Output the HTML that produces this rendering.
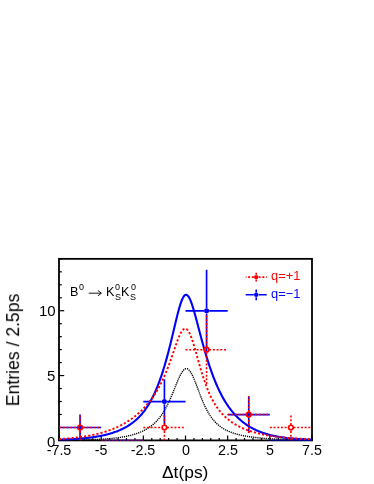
<!DOCTYPE html>
<html><head><meta charset="utf-8"><style>
html,body{margin:0;padding:0;background:#fff;}
body{width:374px;height:484px;position:relative;overflow:hidden;font-family:"Liberation Sans",sans-serif;color:#000;}
.t{position:absolute;white-space:nowrap;line-height:1;will-change:transform;}
.xl{font-size:14.3px;top:442.8px;transform:translateX(-50%);}
.yl{font-size:15px;text-align:right;right:318.6px;}
</style></head><body>
<svg width="374" height="484" viewBox="0 0 374 484" style="position:absolute;left:0;top:0">
<defs><clipPath id="c"><rect x="59.0" y="258.85" width="253.0" height="181.54999999999995"/></clipPath></defs>
<line x1="59.00" x2="59.00" y1="440.4" y2="435.59999999999997" stroke="#000" stroke-width="1.2"/>
<line x1="67.43" x2="67.43" y1="440.4" y2="438.0" stroke="#000" stroke-width="1.2"/>
<line x1="75.87" x2="75.87" y1="440.4" y2="438.0" stroke="#000" stroke-width="1.2"/>
<line x1="84.30" x2="84.30" y1="440.4" y2="438.0" stroke="#000" stroke-width="1.2"/>
<line x1="92.73" x2="92.73" y1="440.4" y2="438.0" stroke="#000" stroke-width="1.2"/>
<line x1="101.17" x2="101.17" y1="440.4" y2="435.59999999999997" stroke="#000" stroke-width="1.2"/>
<line x1="109.60" x2="109.60" y1="440.4" y2="438.0" stroke="#000" stroke-width="1.2"/>
<line x1="118.03" x2="118.03" y1="440.4" y2="438.0" stroke="#000" stroke-width="1.2"/>
<line x1="126.47" x2="126.47" y1="440.4" y2="438.0" stroke="#000" stroke-width="1.2"/>
<line x1="134.90" x2="134.90" y1="440.4" y2="438.0" stroke="#000" stroke-width="1.2"/>
<line x1="143.33" x2="143.33" y1="440.4" y2="435.59999999999997" stroke="#000" stroke-width="1.2"/>
<line x1="151.77" x2="151.77" y1="440.4" y2="438.0" stroke="#000" stroke-width="1.2"/>
<line x1="160.20" x2="160.20" y1="440.4" y2="438.0" stroke="#000" stroke-width="1.2"/>
<line x1="168.63" x2="168.63" y1="440.4" y2="438.0" stroke="#000" stroke-width="1.2"/>
<line x1="177.07" x2="177.07" y1="440.4" y2="438.0" stroke="#000" stroke-width="1.2"/>
<line x1="185.50" x2="185.50" y1="440.4" y2="435.59999999999997" stroke="#000" stroke-width="1.2"/>
<line x1="193.93" x2="193.93" y1="440.4" y2="438.0" stroke="#000" stroke-width="1.2"/>
<line x1="202.37" x2="202.37" y1="440.4" y2="438.0" stroke="#000" stroke-width="1.2"/>
<line x1="210.80" x2="210.80" y1="440.4" y2="438.0" stroke="#000" stroke-width="1.2"/>
<line x1="219.23" x2="219.23" y1="440.4" y2="438.0" stroke="#000" stroke-width="1.2"/>
<line x1="227.67" x2="227.67" y1="440.4" y2="435.59999999999997" stroke="#000" stroke-width="1.2"/>
<line x1="236.10" x2="236.10" y1="440.4" y2="438.0" stroke="#000" stroke-width="1.2"/>
<line x1="244.53" x2="244.53" y1="440.4" y2="438.0" stroke="#000" stroke-width="1.2"/>
<line x1="252.97" x2="252.97" y1="440.4" y2="438.0" stroke="#000" stroke-width="1.2"/>
<line x1="261.40" x2="261.40" y1="440.4" y2="438.0" stroke="#000" stroke-width="1.2"/>
<line x1="269.83" x2="269.83" y1="440.4" y2="435.59999999999997" stroke="#000" stroke-width="1.2"/>
<line x1="278.27" x2="278.27" y1="440.4" y2="438.0" stroke="#000" stroke-width="1.2"/>
<line x1="286.70" x2="286.70" y1="440.4" y2="438.0" stroke="#000" stroke-width="1.2"/>
<line x1="295.13" x2="295.13" y1="440.4" y2="438.0" stroke="#000" stroke-width="1.2"/>
<line x1="303.57" x2="303.57" y1="440.4" y2="438.0" stroke="#000" stroke-width="1.2"/>
<line x1="312.00" x2="312.00" y1="440.4" y2="435.59999999999997" stroke="#000" stroke-width="1.2"/>
<line x1="59.0" x2="64.2" y1="440.40" y2="440.40" stroke="#000" stroke-width="1.2"/>
<line x1="59.0" x2="61.8" y1="427.43" y2="427.43" stroke="#000" stroke-width="1.2"/>
<line x1="59.0" x2="61.8" y1="414.46" y2="414.46" stroke="#000" stroke-width="1.2"/>
<line x1="59.0" x2="61.8" y1="401.50" y2="401.50" stroke="#000" stroke-width="1.2"/>
<line x1="59.0" x2="61.8" y1="388.53" y2="388.53" stroke="#000" stroke-width="1.2"/>
<line x1="59.0" x2="64.2" y1="375.56" y2="375.56" stroke="#000" stroke-width="1.2"/>
<line x1="59.0" x2="61.8" y1="362.59" y2="362.59" stroke="#000" stroke-width="1.2"/>
<line x1="59.0" x2="61.8" y1="349.62" y2="349.62" stroke="#000" stroke-width="1.2"/>
<line x1="59.0" x2="61.8" y1="336.66" y2="336.66" stroke="#000" stroke-width="1.2"/>
<line x1="59.0" x2="61.8" y1="323.69" y2="323.69" stroke="#000" stroke-width="1.2"/>
<line x1="59.0" x2="64.2" y1="310.72" y2="310.72" stroke="#000" stroke-width="1.2"/>
<line x1="59.0" x2="61.8" y1="297.75" y2="297.75" stroke="#000" stroke-width="1.2"/>
<line x1="59.0" x2="61.8" y1="284.78" y2="284.78" stroke="#000" stroke-width="1.2"/>
<line x1="59.0" x2="61.8" y1="271.82" y2="271.82" stroke="#000" stroke-width="1.2"/>
<line x1="59.0" x2="61.8" y1="258.85" y2="258.85" stroke="#000" stroke-width="1.2"/>
<rect x="59.0" y="258.85" width="253.0" height="181.54999999999995" fill="none" stroke="#000" stroke-width="1.8"/>
<g clip-path="url(#c)">
<path d="M59.00,440.25 L59.63,440.25 L60.27,440.24 L60.90,440.24 L61.54,440.23 L62.17,440.23 L62.80,440.22 L63.44,440.21 L64.07,440.21 L64.71,440.20 L65.34,440.20 L65.97,440.19 L66.61,440.18 L67.24,440.18 L67.88,440.17 L68.51,440.16 L69.15,440.15 L69.78,440.15 L70.41,440.14 L71.05,440.13 L71.68,440.12 L72.32,440.11 L72.95,440.10 L73.58,440.10 L74.22,440.09 L74.85,440.08 L75.49,440.07 L76.12,440.05 L76.75,440.04 L77.39,440.03 L78.02,440.02 L78.66,440.01 L79.29,440.00 L79.92,439.98 L80.56,439.97 L81.19,439.96 L81.83,439.94 L82.46,439.93 L83.10,439.91 L83.73,439.90 L84.36,439.88 L85.00,439.87 L85.63,439.85 L86.27,439.83 L86.90,439.81 L87.53,439.79 L88.17,439.78 L88.80,439.76 L89.44,439.74 L90.07,439.71 L90.70,439.69 L91.34,439.67 L91.97,439.65 L92.61,439.62 L93.24,439.60 L93.87,439.57 L94.51,439.55 L95.14,439.52 L95.78,439.49 L96.41,439.46 L97.05,439.43 L97.68,439.40 L98.31,439.37 L98.95,439.34 L99.58,439.30 L100.22,439.27 L100.85,439.23 L101.48,439.20 L102.12,439.16 L102.75,439.12 L103.39,439.08 L104.02,439.04 L104.65,438.99 L105.29,438.95 L105.92,438.90 L106.56,438.86 L107.19,438.81 L107.82,438.76 L108.46,438.70 L109.09,438.65 L109.73,438.59 L110.36,438.54 L110.99,438.48 L111.63,438.42 L112.26,438.35 L112.90,438.29 L113.53,438.22 L114.17,438.15 L114.80,438.08 L115.43,438.01 L116.07,437.93 L116.70,437.85 L117.34,437.77 L117.97,437.69 L118.60,437.60 L119.24,437.51 L119.87,437.42 L120.51,437.33 L121.14,437.23 L121.77,437.13 L122.41,437.03 L123.04,436.92 L123.68,436.81 L124.31,436.69 L124.94,436.57 L125.58,436.45 L126.21,436.33 L126.85,436.20 L127.48,436.06 L128.12,435.92 L128.75,435.78 L129.38,435.63 L130.02,435.48 L130.65,435.32 L131.29,435.16 L131.92,434.99 L132.55,434.82 L133.19,434.64 L133.82,434.45 L134.46,434.26 L135.09,434.06 L135.72,433.86 L136.36,433.65 L136.99,433.43 L137.63,433.21 L138.26,432.97 L138.89,432.73 L139.53,432.48 L140.16,432.22 L140.80,431.96 L141.43,431.68 L142.07,431.40 L142.70,431.10 L143.33,430.80 L143.97,430.48 L144.60,430.15 L145.24,429.81 L145.87,429.46 L146.50,429.10 L147.14,428.72 L147.77,428.33 L148.41,427.93 L149.04,427.51 L149.67,427.07 L150.31,426.62 L150.94,426.15 L151.58,425.67 L152.21,425.16 L152.84,424.64 L153.48,424.10 L154.11,423.53 L154.75,422.94 L155.38,422.33 L156.02,421.70 L156.65,421.04 L157.28,420.36 L157.92,419.65 L158.55,418.91 L159.19,418.14 L159.82,417.34 L160.45,416.51 L161.09,415.65 L161.72,414.75 L162.36,413.82 L162.99,412.85 L163.62,411.84 L164.26,410.80 L164.89,409.71 L165.53,408.59 L166.16,407.43 L166.79,406.23 L167.43,404.98 L168.06,403.70 L168.70,402.37 L169.33,401.01 L169.96,399.61 L170.60,398.17 L171.23,396.70 L171.87,395.20 L172.50,393.67 L173.14,392.12 L173.77,390.55 L174.40,388.97 L175.04,387.38 L175.67,385.80 L176.31,384.22 L176.94,382.67 L177.57,381.14 L178.21,379.65 L178.84,378.21 L179.48,376.83 L180.11,375.52 L180.74,374.29 L181.38,373.16 L182.01,372.13 L182.65,371.22 L183.28,370.43 L183.91,369.78 L184.55,369.26 L185.18,368.89 L185.82,368.68 L186.45,368.62 L187.09,368.71 L187.72,368.97 L188.35,369.38 L188.99,369.93 L189.62,370.64 L190.26,371.49 L190.89,372.46 L191.52,373.56 L192.16,374.78 L192.79,376.09 L193.43,377.49 L194.06,378.98 L194.69,380.52 L195.33,382.13 L195.96,383.77 L196.60,385.44 L197.23,387.13 L197.86,388.84 L198.50,390.54 L199.13,392.23 L199.77,393.90 L200.40,395.55 L201.04,397.18 L201.67,398.76 L202.30,400.31 L202.94,401.82 L203.57,403.28 L204.21,404.70 L204.84,406.06 L205.47,407.38 L206.11,408.65 L206.74,409.87 L207.38,411.05 L208.01,412.17 L208.64,413.25 L209.28,414.28 L209.91,415.28 L210.55,416.22 L211.18,417.13 L211.81,418.00 L212.45,418.83 L213.08,419.62 L213.72,420.38 L214.35,421.10 L214.98,421.80 L215.62,422.46 L216.25,423.09 L216.89,423.70 L217.52,424.28 L218.16,424.84 L218.79,425.37 L219.42,425.88 L220.06,426.37 L220.69,426.83 L221.33,427.28 L221.96,427.71 L222.59,428.12 L223.23,428.52 L223.86,428.89 L224.50,429.26 L225.13,429.61 L225.76,429.94 L226.40,430.26 L227.03,430.57 L227.67,430.87 L228.30,431.16 L228.93,431.44 L229.57,431.70 L230.20,431.96 L230.84,432.20 L231.47,432.44 L232.11,432.67 L232.74,432.89 L233.37,433.11 L234.01,433.31 L234.64,433.51 L235.28,433.70 L235.91,433.89 L236.54,434.07 L237.18,434.24 L237.81,434.41 L238.45,434.57 L239.08,434.73 L239.71,434.88 L240.35,435.03 L240.98,435.17 L241.62,435.31 L242.25,435.45 L242.88,435.58 L243.52,435.70 L244.15,435.82 L244.79,435.94 L245.42,436.06 L246.06,436.17 L246.69,436.28 L247.32,436.38 L247.96,436.49 L248.59,436.59 L249.23,436.68 L249.86,436.78 L250.49,436.87 L251.13,436.96 L251.76,437.04 L252.40,437.13 L253.03,437.21 L253.66,437.29 L254.30,437.37 L254.93,437.44 L255.57,437.52 L256.20,437.59 L256.83,437.66 L257.47,437.72 L258.10,437.79 L258.74,437.85 L259.37,437.92 L260.01,437.98 L260.64,438.04 L261.27,438.09 L261.91,438.15 L262.54,438.21 L263.18,438.26 L263.81,438.31 L264.44,438.36 L265.08,438.41 L265.71,438.46 L266.35,438.51 L266.98,438.55 L267.61,438.60 L268.25,438.64 L268.88,438.68 L269.52,438.72 L270.15,438.76 L270.78,438.80 L271.42,438.84 L272.05,438.88 L272.69,438.92 L273.32,438.95 L273.95,438.99 L274.59,439.02 L275.22,439.05 L275.86,439.08 L276.49,439.12 L277.13,439.15 L277.76,439.18 L278.39,439.21 L279.03,439.23 L279.66,439.26 L280.30,439.29 L280.93,439.32 L281.56,439.34 L282.20,439.37 L282.83,439.39 L283.47,439.42 L284.10,439.44 L284.73,439.46 L285.37,439.48 L286.00,439.51 L286.64,439.53 L287.27,439.55 L287.90,439.57 L288.54,439.59 L289.17,439.61 L289.81,439.63 L290.44,439.64 L291.08,439.66 L291.71,439.68 L292.34,439.70 L292.98,439.71 L293.61,439.73 L294.25,439.75 L294.88,439.76 L295.51,439.78 L296.15,439.79 L296.78,439.81 L297.42,439.82 L298.05,439.83 L298.68,439.85 L299.32,439.86 L299.95,439.87 L300.59,439.89 L301.22,439.90 L301.85,439.91 L302.49,439.92 L303.12,439.93 L303.76,439.94 L304.39,439.95 L305.03,439.96 L305.66,439.97 L306.29,439.99 L306.93,439.99 L307.56,440.00 L308.20,440.01 L308.83,440.02 L309.46,440.03 L310.10,440.04 L310.73,440.05 L311.37,440.06 L312.00,440.07" fill="none" stroke="#000" stroke-width="1.4" stroke-dasharray="1.2 0.9"/>
<path d="M59.00,427.53 H77.48 M82.68,427.53 H101.17 M80.08,424.93 V414.56 M80.08,440.50 V430.13" fill="none" stroke="#00f" stroke-width="1.65"/>
<circle cx="80.08" cy="427.53" r="2.5" fill="#00f"/>
<path d="M101.17,440.50 H143.33" fill="none" stroke="#00f" stroke-width="1.65"/>
<path d="M143.33,401.60 H161.82 M167.02,401.60 H185.50 M164.42,399.00 V379.13 M164.42,424.06 V404.20" fill="none" stroke="#00f" stroke-width="1.65"/>
<circle cx="164.42" cy="401.60" r="2.5" fill="#00f"/>
<path d="M185.50,310.82 H203.98 M209.18,310.82 H227.67 M206.58,308.22 V269.81 M206.58,351.83 V313.42" fill="none" stroke="#00f" stroke-width="1.65"/>
<circle cx="206.58" cy="310.82" r="2.5" fill="#00f"/>
<path d="M227.67,414.56 H246.15 M251.35,414.56 H269.83 M248.75,411.96 V396.22 M248.75,432.90 V417.16" fill="none" stroke="#00f" stroke-width="1.65"/>
<circle cx="248.75" cy="414.56" r="2.5" fill="#00f"/>
<path d="M269.83,440.50 H312.00" fill="none" stroke="#00f" stroke-width="1.65"/>
<path d="M59.00,439.77 L59.63,439.75 L60.27,439.73 L60.90,439.70 L61.54,439.68 L62.17,439.66 L62.80,439.63 L63.44,439.61 L64.07,439.58 L64.71,439.56 L65.34,439.53 L65.97,439.50 L66.61,439.47 L67.24,439.44 L67.88,439.41 L68.51,439.38 L69.15,439.35 L69.78,439.32 L70.41,439.28 L71.05,439.25 L71.68,439.21 L72.32,439.18 L72.95,439.14 L73.58,439.10 L74.22,439.06 L74.85,439.02 L75.49,438.97 L76.12,438.93 L76.75,438.89 L77.39,438.84 L78.02,438.79 L78.66,438.74 L79.29,438.69 L79.92,438.64 L80.56,438.59 L81.19,438.53 L81.83,438.48 L82.46,438.42 L83.10,438.36 L83.73,438.30 L84.36,438.23 L85.00,438.17 L85.63,438.10 L86.27,438.04 L86.90,437.97 L87.53,437.89 L88.17,437.82 L88.80,437.74 L89.44,437.67 L90.07,437.59 L90.70,437.50 L91.34,437.42 L91.97,437.33 L92.61,437.25 L93.24,437.15 L93.87,437.06 L94.51,436.96 L95.14,436.87 L95.78,436.76 L96.41,436.66 L97.05,436.55 L97.68,436.44 L98.31,436.33 L98.95,436.22 L99.58,436.10 L100.22,435.98 L100.85,435.85 L101.48,435.72 L102.12,435.59 L102.75,435.46 L103.39,435.32 L104.02,435.18 L104.65,435.03 L105.29,434.88 L105.92,434.73 L106.56,434.57 L107.19,434.41 L107.82,434.24 L108.46,434.07 L109.09,433.90 L109.73,433.72 L110.36,433.53 L110.99,433.34 L111.63,433.15 L112.26,432.95 L112.90,432.75 L113.53,432.54 L114.17,432.32 L114.80,432.10 L115.43,431.88 L116.07,431.64 L116.70,431.40 L117.34,431.16 L117.97,430.91 L118.60,430.65 L119.24,430.38 L119.87,430.11 L120.51,429.83 L121.14,429.54 L121.77,429.25 L122.41,428.95 L123.04,428.63 L123.68,428.31 L124.31,427.99 L124.94,427.65 L125.58,427.30 L126.21,426.94 L126.85,426.58 L127.48,426.20 L128.12,425.81 L128.75,425.41 L129.38,425.00 L130.02,424.58 L130.65,424.15 L131.29,423.70 L131.92,423.24 L132.55,422.77 L133.19,422.28 L133.82,421.78 L134.46,421.27 L135.09,420.74 L135.72,420.19 L136.36,419.63 L136.99,419.05 L137.63,418.45 L138.26,417.83 L138.89,417.20 L139.53,416.54 L140.16,415.87 L140.80,415.17 L141.43,414.46 L142.07,413.72 L142.70,412.95 L143.33,412.17 L143.97,411.36 L144.60,410.52 L145.24,409.65 L145.87,408.76 L146.50,407.84 L147.14,406.89 L147.77,405.91 L148.41,404.90 L149.04,403.86 L149.67,402.78 L150.31,401.67 L150.94,400.53 L151.58,399.35 L152.21,398.13 L152.84,396.87 L153.48,395.57 L154.11,394.24 L154.75,392.86 L155.38,391.44 L156.02,389.97 L156.65,388.47 L157.28,386.91 L157.92,385.32 L158.55,383.67 L159.19,381.98 L159.82,380.24 L160.45,378.46 L161.09,376.62 L161.72,374.74 L162.36,372.80 L162.99,370.82 L163.62,368.78 L164.26,366.70 L164.89,364.56 L165.53,362.38 L166.16,360.15 L166.79,357.86 L167.43,355.53 L168.06,353.15 L168.70,350.73 L169.33,348.26 L169.96,345.75 L170.60,343.21 L171.23,340.62 L171.87,338.01 L172.50,335.36 L173.14,332.70 L173.77,330.03 L174.40,327.35 L175.04,324.67 L175.67,322.02 L176.31,319.39 L176.94,316.80 L177.57,314.28 L178.21,311.83 L178.84,309.47 L179.48,307.23 L180.11,305.11 L180.74,303.15 L181.38,301.36 L182.01,299.76 L182.65,298.35 L183.28,297.17 L183.91,296.22 L184.55,295.51 L185.18,295.04 L185.82,294.82 L186.45,294.86 L187.09,295.14 L187.72,295.66 L188.35,296.41 L188.99,297.38 L189.62,298.56 L190.26,299.93 L190.89,301.47 L191.52,303.17 L192.16,305.01 L192.79,306.98 L193.43,309.04 L194.06,311.20 L194.69,313.43 L195.33,315.72 L195.96,318.06 L196.60,320.43 L197.23,322.83 L197.86,325.24 L198.50,327.66 L199.13,330.07 L199.77,332.48 L200.40,334.88 L201.04,337.26 L201.67,339.61 L202.30,341.95 L202.94,344.25 L203.57,346.52 L204.21,348.76 L204.84,350.97 L205.47,353.14 L206.11,355.27 L206.74,357.37 L207.38,359.42 L208.01,361.44 L208.64,363.42 L209.28,365.35 L209.91,367.25 L210.55,369.11 L211.18,370.92 L211.81,372.70 L212.45,374.43 L213.08,376.13 L213.72,377.78 L214.35,379.40 L214.98,380.98 L215.62,382.52 L216.25,384.02 L216.89,385.49 L217.52,386.92 L218.16,388.32 L218.79,389.67 L219.42,391.00 L220.06,392.29 L220.69,393.55 L221.33,394.78 L221.96,395.97 L222.59,397.14 L223.23,398.27 L223.86,399.38 L224.50,400.45 L225.13,401.50 L225.76,402.52 L226.40,403.52 L227.03,404.49 L227.67,405.43 L228.30,406.35 L228.93,407.25 L229.57,408.12 L230.20,408.97 L230.84,409.80 L231.47,410.61 L232.11,411.39 L232.74,412.16 L233.37,412.90 L234.01,413.63 L234.64,414.34 L235.28,415.03 L235.91,415.70 L236.54,416.36 L237.18,417.00 L237.81,417.62 L238.45,418.22 L239.08,418.82 L239.71,419.39 L240.35,419.95 L240.98,420.50 L241.62,421.03 L242.25,421.55 L242.88,422.06 L243.52,422.55 L244.15,423.03 L244.79,423.50 L245.42,423.96 L246.06,424.40 L246.69,424.84 L247.32,425.26 L247.96,425.67 L248.59,426.07 L249.23,426.46 L249.86,426.85 L250.49,427.22 L251.13,427.58 L251.76,427.93 L252.40,428.28 L253.03,428.61 L253.66,428.94 L254.30,429.25 L254.93,429.56 L255.57,429.87 L256.20,430.16 L256.83,430.45 L257.47,430.72 L258.10,431.00 L258.74,431.26 L259.37,431.52 L260.01,431.77 L260.64,432.01 L261.27,432.25 L261.91,432.48 L262.54,432.71 L263.18,432.93 L263.81,433.14 L264.44,433.35 L265.08,433.55 L265.71,433.75 L266.35,433.94 L266.98,434.13 L267.61,434.31 L268.25,434.49 L268.88,434.66 L269.52,434.83 L270.15,434.99 L270.78,435.15 L271.42,435.30 L272.05,435.45 L272.69,435.60 L273.32,435.74 L273.95,435.88 L274.59,436.01 L275.22,436.14 L275.86,436.27 L276.49,436.39 L277.13,436.51 L277.76,436.63 L278.39,436.74 L279.03,436.85 L279.66,436.96 L280.30,437.06 L280.93,437.16 L281.56,437.26 L282.20,437.36 L282.83,437.45 L283.47,437.54 L284.10,437.63 L284.73,437.71 L285.37,437.80 L286.00,437.88 L286.64,437.95 L287.27,438.03 L287.90,438.10 L288.54,438.17 L289.17,438.24 L289.81,438.31 L290.44,438.38 L291.08,438.44 L291.71,438.50 L292.34,438.56 L292.98,438.62 L293.61,438.67 L294.25,438.73 L294.88,438.78 L295.51,438.83 L296.15,438.88 L296.78,438.93 L297.42,438.98 L298.05,439.02 L298.68,439.07 L299.32,439.11 L299.95,439.15 L300.59,439.19 L301.22,439.23 L301.85,439.27 L302.49,439.31 L303.12,439.34 L303.76,439.37 L304.39,439.41 L305.03,439.44 L305.66,439.47 L306.29,439.50 L306.93,439.53 L307.56,439.56 L308.20,439.59 L308.83,439.61 L309.46,439.64 L310.10,439.67 L310.73,439.69 L311.37,439.71 L312.00,439.74" fill="none" stroke="#00f" stroke-width="2.1"/>
<path d="M59.00,427.53 H77.48 M82.68,427.53 H101.17 M80.08,424.93 V414.56 M80.08,440.50 V430.13" fill="none" stroke="#f00" stroke-width="1.6" stroke-dasharray="2 1.7"/>
<circle cx="80.08" cy="427.53" r="2.3" fill="none" stroke="#f00" stroke-width="1.7"/>
<path d="M101.17,440.50 H143.33" fill="none" stroke="#f00" stroke-width="1.6" stroke-dasharray="2 1.7"/>
<path d="M143.33,427.53 H161.82 M167.02,427.53 H185.50 M164.42,424.93 V414.56 M164.42,440.50 V430.13" fill="none" stroke="#f00" stroke-width="1.6" stroke-dasharray="2 1.7"/>
<circle cx="164.42" cy="427.53" r="2.3" fill="none" stroke="#f00" stroke-width="1.7"/>
<path d="M185.50,349.72 H203.98 M209.18,349.72 H227.67 M206.58,347.12 V315.41 M206.58,384.03 V352.32" fill="none" stroke="#f00" stroke-width="1.6" stroke-dasharray="2 1.7"/>
<circle cx="206.58" cy="349.72" r="2.3" fill="none" stroke="#f00" stroke-width="1.7"/>
<path d="M227.67,414.56 H246.15 M251.35,414.56 H269.83 M248.75,411.96 V396.22 M248.75,432.90 V417.16" fill="none" stroke="#f00" stroke-width="1.6" stroke-dasharray="2 1.7"/>
<circle cx="248.75" cy="414.56" r="2.3" fill="none" stroke="#f00" stroke-width="1.7"/>
<path d="M269.83,427.53 H288.32 M293.52,427.53 H312.00 M290.92,424.93 V414.56 M290.92,440.50 V430.13" fill="none" stroke="#f00" stroke-width="1.6" stroke-dasharray="2 1.7"/>
<circle cx="290.92" cy="427.53" r="2.3" fill="none" stroke="#f00" stroke-width="1.7"/>
<path d="M59.00,439.07 L59.63,439.04 L60.27,439.00 L60.90,438.96 L61.54,438.92 L62.17,438.88 L62.80,438.83 L63.44,438.79 L64.07,438.74 L64.71,438.70 L65.34,438.65 L65.97,438.60 L66.61,438.55 L67.24,438.50 L67.88,438.45 L68.51,438.39 L69.15,438.34 L69.78,438.28 L70.41,438.22 L71.05,438.16 L71.68,438.10 L72.32,438.04 L72.95,437.97 L73.58,437.91 L74.22,437.84 L74.85,437.77 L75.49,437.70 L76.12,437.63 L76.75,437.55 L77.39,437.47 L78.02,437.40 L78.66,437.32 L79.29,437.23 L79.92,437.15 L80.56,437.07 L81.19,436.98 L81.83,436.89 L82.46,436.80 L83.10,436.70 L83.73,436.61 L84.36,436.51 L85.00,436.41 L85.63,436.30 L86.27,436.20 L86.90,436.09 L87.53,435.98 L88.17,435.87 L88.80,435.75 L89.44,435.63 L90.07,435.51 L90.70,435.39 L91.34,435.26 L91.97,435.14 L92.61,435.00 L93.24,434.87 L93.87,434.73 L94.51,434.59 L95.14,434.45 L95.78,434.30 L96.41,434.15 L97.05,434.00 L97.68,433.85 L98.31,433.69 L98.95,433.52 L99.58,433.36 L100.22,433.19 L100.85,433.02 L101.48,432.84 L102.12,432.66 L102.75,432.47 L103.39,432.29 L104.02,432.09 L104.65,431.90 L105.29,431.70 L105.92,431.50 L106.56,431.29 L107.19,431.08 L107.82,430.86 L108.46,430.64 L109.09,430.41 L109.73,430.18 L110.36,429.95 L110.99,429.71 L111.63,429.47 L112.26,429.22 L112.90,428.96 L113.53,428.71 L114.17,428.44 L114.80,428.17 L115.43,427.90 L116.07,427.62 L116.70,427.33 L117.34,427.04 L117.97,426.75 L118.60,426.44 L119.24,426.14 L119.87,425.82 L120.51,425.50 L121.14,425.18 L121.77,424.84 L122.41,424.50 L123.04,424.16 L123.68,423.80 L124.31,423.45 L124.94,423.08 L125.58,422.71 L126.21,422.32 L126.85,421.94 L127.48,421.54 L128.12,421.14 L128.75,420.73 L129.38,420.31 L130.02,419.88 L130.65,419.44 L131.29,419.00 L131.92,418.55 L132.55,418.08 L133.19,417.61 L133.82,417.13 L134.46,416.64 L135.09,416.15 L135.72,415.64 L136.36,415.12 L136.99,414.59 L137.63,414.05 L138.26,413.50 L138.89,412.94 L139.53,412.36 L140.16,411.78 L140.80,411.18 L141.43,410.57 L142.07,409.95 L142.70,409.32 L143.33,408.67 L143.97,408.01 L144.60,407.33 L145.24,406.64 L145.87,405.94 L146.50,405.22 L147.14,404.48 L147.77,403.73 L148.41,402.97 L149.04,402.18 L149.67,401.38 L150.31,400.56 L150.94,399.72 L151.58,398.86 L152.21,397.98 L152.84,397.08 L153.48,396.16 L154.11,395.22 L154.75,394.25 L155.38,393.26 L156.02,392.25 L156.65,391.21 L157.28,390.15 L157.92,389.05 L158.55,387.93 L159.19,386.78 L159.82,385.60 L160.45,384.39 L161.09,383.15 L161.72,381.88 L162.36,380.57 L162.99,379.23 L163.62,377.85 L164.26,376.44 L164.89,374.99 L165.53,373.51 L166.16,371.99 L166.79,370.43 L167.43,368.83 L168.06,367.20 L168.70,365.54 L169.33,363.84 L169.96,362.10 L170.60,360.34 L171.23,358.55 L171.87,356.74 L172.50,354.91 L173.14,353.06 L173.77,351.21 L174.40,349.36 L175.04,347.51 L175.67,345.69 L176.31,343.89 L176.94,342.12 L177.57,340.41 L178.21,338.76 L178.84,337.19 L179.48,335.71 L180.11,334.33 L180.74,333.07 L181.38,331.95 L182.01,330.96 L182.65,330.14 L183.28,329.48 L183.91,329.00 L184.55,328.70 L185.18,328.60 L185.82,328.69 L186.45,328.98 L187.09,329.47 L187.72,330.15 L188.35,331.02 L188.99,332.07 L189.62,333.30 L190.26,334.69 L190.89,336.23 L191.52,337.91 L192.16,339.72 L192.79,341.63 L193.43,343.65 L194.06,345.74 L194.69,347.89 L195.33,350.09 L195.96,352.34 L196.60,354.60 L197.23,356.88 L197.86,359.15 L198.50,361.42 L199.13,363.67 L199.77,365.89 L200.40,368.07 L201.04,370.22 L201.67,372.32 L202.30,374.37 L202.94,376.37 L203.57,378.31 L204.21,380.21 L204.84,382.04 L205.47,383.82 L206.11,385.54 L206.74,387.20 L207.38,388.81 L208.01,390.36 L208.64,391.86 L209.28,393.30 L209.91,394.70 L210.55,396.04 L211.18,397.34 L211.81,398.59 L212.45,399.80 L213.08,400.96 L213.72,402.08 L214.35,403.17 L214.98,404.21 L215.62,405.22 L216.25,406.19 L216.89,407.13 L217.52,408.03 L218.16,408.91 L218.79,409.75 L219.42,410.57 L220.06,411.36 L220.69,412.12 L221.33,412.86 L221.96,413.57 L222.59,414.27 L223.23,414.93 L223.86,415.58 L224.50,416.21 L225.13,416.82 L225.76,417.40 L226.40,417.97 L227.03,418.53 L227.67,419.06 L228.30,419.58 L228.93,420.09 L229.57,420.58 L230.20,421.06 L230.84,421.52 L231.47,421.97 L232.11,422.40 L232.74,422.83 L233.37,423.24 L234.01,423.64 L234.64,424.03 L235.28,424.41 L235.91,424.78 L236.54,425.14 L237.18,425.49 L237.81,425.83 L238.45,426.17 L239.08,426.49 L239.71,426.81 L240.35,427.12 L240.98,427.42 L241.62,427.71 L242.25,427.99 L242.88,428.27 L243.52,428.54 L244.15,428.81 L244.79,429.07 L245.42,429.32 L246.06,429.57 L246.69,429.81 L247.32,430.04 L247.96,430.27 L248.59,430.50 L249.23,430.71 L249.86,430.93 L250.49,431.14 L251.13,431.34 L251.76,431.54 L252.40,431.74 L253.03,431.93 L253.66,432.11 L254.30,432.29 L254.93,432.47 L255.57,432.65 L256.20,432.82 L256.83,432.98 L257.47,433.14 L258.10,433.30 L258.74,433.46 L259.37,433.61 L260.01,433.76 L260.64,433.91 L261.27,434.05 L261.91,434.19 L262.54,434.32 L263.18,434.46 L263.81,434.59 L264.44,434.71 L265.08,434.84 L265.71,434.96 L266.35,435.08 L266.98,435.20 L267.61,435.31 L268.25,435.42 L268.88,435.53 L269.52,435.64 L270.15,435.74 L270.78,435.84 L271.42,435.94 L272.05,436.04 L272.69,436.14 L273.32,436.23 L273.95,436.32 L274.59,436.41 L275.22,436.50 L275.86,436.59 L276.49,436.67 L277.13,436.75 L277.76,436.83 L278.39,436.91 L279.03,436.99 L279.66,437.06 L280.30,437.14 L280.93,437.21 L281.56,437.28 L282.20,437.35 L282.83,437.41 L283.47,437.48 L284.10,437.54 L284.73,437.61 L285.37,437.67 L286.00,437.73 L286.64,437.78 L287.27,437.84 L287.90,437.90 L288.54,437.95 L289.17,438.01 L289.81,438.06 L290.44,438.11 L291.08,438.16 L291.71,438.21 L292.34,438.26 L292.98,438.30 L293.61,438.35 L294.25,438.39 L294.88,438.44 L295.51,438.48 L296.15,438.52 L296.78,438.56 L297.42,438.60 L298.05,438.64 L298.68,438.68 L299.32,438.72 L299.95,438.75 L300.59,438.79 L301.22,438.82 L301.85,438.86 L302.49,438.89 L303.12,438.92 L303.76,438.95 L304.39,438.98 L305.03,439.01 L305.66,439.04 L306.29,439.07 L306.93,439.10 L307.56,439.13 L308.20,439.15 L308.83,439.18 L309.46,439.21 L310.10,439.23 L310.73,439.26 L311.37,439.28 L312.00,439.30" fill="none" stroke="#f00" stroke-width="1.9" stroke-dasharray="2.2 2.0"/>
</g>
<path d="M253.79999999999998,277.1 H245.7 M258.59999999999997,277.1 H266.7 M256.2,274.70000000000005 V271.70000000000005 M256.2,279.5 V282.5" fill="none" stroke="#f00" stroke-width="1.6" stroke-dasharray="2 1.7"/>
<circle cx="256.2" cy="277.1" r="2.2" fill="#f00"/>
<path d="M253.79999999999998,294.8 H245.7 M258.59999999999997,294.8 H266.7 M256.2,292.40000000000003 V289.40000000000003 M256.2,297.2 V300.2" fill="none" stroke="#00f" stroke-width="1.6"/>
<circle cx="256.2" cy="294.8" r="2.2" fill="#00f"/>
<path d="M88.7,293.2 H101.2 M98,290.6 L101.4,293.2 L98,295.8" fill="none" stroke="#000" stroke-width="0.9"/>
</svg>
<div class="t xl" style="left:58.9px">-7.5</div>
<div class="t xl" style="left:100.9px">-5</div>
<div class="t xl" style="left:143.2px">-2.5</div>
<div class="t xl" style="left:185.5px">0</div>
<div class="t xl" style="left:227.6px">2.5</div>
<div class="t xl" style="left:269.8px">5</div>
<div class="t xl" style="left:312px">7.5</div>
<div class="t yl" style="top:433.6px">0</div>
<div class="t yl" style="top:368.2px">5</div>
<div class="t yl" style="top:302.9px">10</div>
<div class="t" style="font-size:17.4px;left:161.6px;top:463.7px">&#916;t(ps)</div>
<div class="t" style="font-size:17.6px;left:0;top:0;transform-origin:0 0;transform:translate(5.1px,406.2px) rotate(-90deg)">Entries / 2.5ps</div>
<div class="t" style="font-size:12.6px;left:70.4px;top:286.4px">B</div>
<div class="t" style="font-size:9px;left:79.4px;top:283px">0</div>
<div class="t" style="font-size:12.6px;left:106.1px;top:286.4px">K</div>
<div class="t" style="font-size:9px;left:115.2px;top:282.6px">0</div>
<div class="t" style="font-size:9px;left:114.8px;top:293.4px">S</div>
<div class="t" style="font-size:12.6px;left:121.1px;top:286.4px">K</div>
<div class="t" style="font-size:9px;left:130.6px;top:282.6px">0</div>
<div class="t" style="font-size:9px;left:130.2px;top:293.4px">S</div>
<div class="t" style="font-size:12.9px;left:270.6px;top:270.4px;color:#f00">q=+1</div>
<div class="t" style="font-size:12.9px;left:270.6px;top:288px;color:#00f">q=&#8722;1</div>
</body></html>
